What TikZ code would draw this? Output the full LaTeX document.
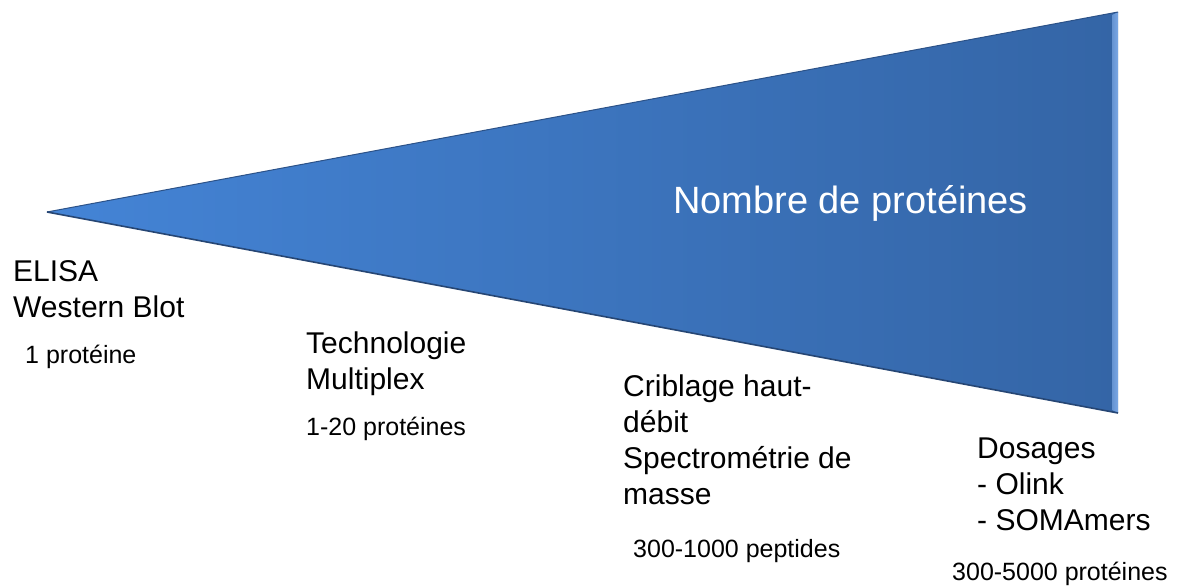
\documentclass[tikz,border=0pt]{standalone}
\usepackage{fontspec}
\setmainfont{Liberation Sans}

\definecolor{wedgeL}{RGB}{68,132,214}
\definecolor{wedgeR}{RGB}{52,101,166}
\definecolor{wedgeRim}{RGB}{122,167,228}
\definecolor{wedgeDark}{RGB}{38,70,116}

\tikzset{
  big/.style={anchor=base west, inner sep=0pt, align=left, font=\fontsize{30}{36}\selectfont},
  small/.style={anchor=base west, inner sep=0pt, font=\fontsize{25}{30}\selectfont},
}

\begin{document}
\begin{tikzpicture}[x=1pt,y=-1pt]
            \useasboundingbox (0,0) rectangle (1182,586);

            \coordinate (tip) at (47,212);
            \coordinate (tr) at (1118,12);
            \coordinate (br) at (1118,413);

            % the wedge
            \shade[left color=wedgeL, right color=wedgeR] (tip) -- (tr) -- (br) -- cycle;
            \shade[left color=wedgeR!30!wedgeRim, right color=wedgeRim] (1112,15) -- (tr) -- (br) -- (1112,410) -- cycle;
            \draw[wedgeDark!60!wedgeR, line width=1pt] (tip) -- (tr);
            \draw[wedgeDark, line width=1.6pt] (tip) -- (br);

            \node[anchor=base west, inner sep=0pt, text=white, font=\fontsize{38}{44}\selectfont] (titre) at (673,213) {Nombre de protéines};

            % base = last line
            \node[big] (elisa) at (13,317) {ELISA\\Western Blot};
            \node[small] (n1) at (25,363) {1 protéine};

            \node[big] (multi) at (306,389) {Technologie\\Multiplex};
            \node[small] (n20) at (306,435) {1-20 protéines};

            \node[big] (crib) at (623,504) {Criblage haut-\\débit\\Spectrométrie de\\masse};
            \node[small] (n1000) at (633,557) {300-1000 peptides};

            \node[big] (dos) at (977,530) {Dosages\\- Olink\\- SOMAmers};
            \node[small] (n5000) at (952,580) {300-5000 protéines};
        \end{tikzpicture}
\end{document}
